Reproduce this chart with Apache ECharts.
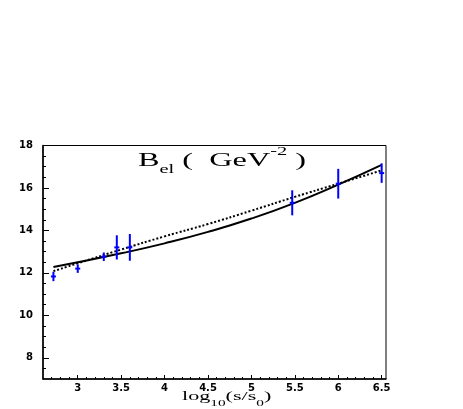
<!DOCTYPE html>
<html>
<head>
<meta charset="utf-8">
<script src="https://cdn.jsdelivr.net/npm/echarts@6/dist/echarts.min.js"></script>
<style>
  html, body { margin: 0; padding: 0; background: #fff; }
  #main { width: 463px; height: 409px; }
</style>
</head>
<body>
<div id="main"></div>
<script>
// measured points (log10(s/s0), B_el, error)
const dataX = [2.72, 3.0, 3.3, 3.45, 3.6, 5.47, 6.0, 6.5];
const dataY = [11.83, 12.2, 12.76, 13.2, 13.2, 15.3, 16.2, 16.7];
const dataErr = [0.22, 0.2, 0.2, 0.57, 0.63, 0.59, 0.7, 0.46];

// model curves
const curveX = [2.72, 3.0, 3.5, 4.0, 4.5, 5.0, 5.5, 6.0, 6.5];
const solidY = [12.28, 12.5, 12.92, 13.39, 13.93, 14.56, 15.3, 16.16, 17.09];
const dottedY = [12.08, 12.45, 13.1, 13.72, 14.3, 14.93, 15.58, 16.2, 16.83];

// tick labels
const xTicks = [3, 3.5, 4, 4.5, 5, 5.5, 6, 6.5];
const yTicks = [8, 10, 12, 14, 16, 18];
const xMinor = [];
for (let i = 27; i <= 65; i++) if (i % 5 !== 0) xMinor.push(i / 10);
const yMinor = [];
for (let i = 15; i <= 35; i++) if (i % 4 !== 0) yMinor.push(i / 2);

const labelFont = {
    fontFamily: 'DejaVu Sans',
    fontWeight: 'bold',
    fontSize: 10,
    color: '#000'
};

let chart = echarts.init(document.getElementById('main'));
chart.setOption({
    backgroundColor: '#fff',
    animation: false,
    grid: {
        left: 43,
        right: 77,
        top: 145.5,
        bottom: 30,
        show: true,
        borderColor: '#000',
        borderWidth: 1
    },
    xAxis: [{
        type: 'value',
        min: 2.6,
        max: 6.55,
        axisLine: { lineStyle: { color: '#000', width: 1.5 } },
        axisTick: { inside: true, length: 4, customValues: xTicks, lineStyle: { color: '#000' } },
        axisLabel: Object.assign({ margin: 4, customValues: xTicks }, labelFont),
        splitLine: { show: false }
    }, {
        type: 'value',
        min: 2.6,
        max: 6.55,
        position: 'bottom',
        axisLine: { show: false },
        axisTick: { inside: true, length: 2, customValues: xMinor, lineStyle: { color: '#000' } },
        axisLabel: { show: false },
        splitLine: { show: false }
    }],
    yAxis: [{
        type: 'value',
        min: 7,
        max: 18,
        axisLine: { show: true, lineStyle: { color: '#000', width: 1.5 } },
        axisTick: { show: true, inside: true, length: 6, customValues: yTicks, lineStyle: { color: '#000' } },
        axisLabel: Object.assign({ margin: 10, customValues: yTicks }, labelFont),
        splitLine: { show: false }
    }, {
        type: 'value',
        min: 7,
        max: 18,
        position: 'left',
        axisLine: { show: false },
        axisTick: { show: true, inside: true, length: 3, customValues: yMinor, lineStyle: { color: '#000' } },
        axisLabel: { show: false },
        splitLine: { show: false }
    }],
    graphic: [{
        type: 'text',
        x: 138,
        y: 146,
        scaleX: 1.7,
        style: {
            text: '{m|B}{sub|el}{m| (  GeV}{sup|-2}{m| )}',
            fill: '#000',
            rich: {
                m: { fontFamily: 'Liberation Serif', fontSize: 19, lineHeight: 30, verticalAlign: 'middle' },
                sub: { fontFamily: 'Liberation Serif', fontSize: 12, lineHeight: 12, verticalAlign: 'bottom' },
                sup: { fontFamily: 'Liberation Serif', fontSize: 12, lineHeight: 18, verticalAlign: 'top' }
            }
        }
    }, {
        type: 'text',
        x: 182,
        y: 386,
        scaleX: 1.7,
        style: {
            text: '{m|log}{sub|10}{m|(s/s}{sub|0}{m|)}',
            fill: '#000',
            rich: {
                m: { fontFamily: 'Liberation Serif', fontSize: 13, lineHeight: 22, verticalAlign: 'middle' },
                sub: { fontFamily: 'Liberation Serif', fontSize: 9, lineHeight: 9, verticalAlign: 'bottom' }
            }
        }
    }],
    series: [{
        name: 'solid',
        type: 'line',
        smooth: true,
        symbol: 'none',
        lineStyle: { color: '#000', width: 2 },
        data: curveX.map((x, i) => [x, solidY[i]]),
        z: 3
    }, {
        name: 'dotted',
        type: 'line',
        smooth: true,
        symbol: 'none',
        lineStyle: { color: '#000', width: 2, type: [2, 2] },
        data: curveX.map((x, i) => [x, dottedY[i]]),
        z: 3
    }, {
        name: 'data',
        type: 'custom',
        renderItem: function (params, api) {
            let x = api.value(0), y = api.value(1), e = api.value(2);
            let lo = api.coord([x, y - e]);
            let hi = api.coord([x, y + e]);
            let c = api.coord([x, y]);
            return {
                type: 'group',
                children: [{
                    type: 'line',
                    shape: { x1: lo[0], y1: lo[1], x2: hi[0], y2: hi[1] },
                    style: { stroke: '#0000ff', lineWidth: 2 }
                }, {
                    type: 'line',
                    shape: { x1: c[0] - 2.5, y1: c[1], x2: c[0] + 2.5, y2: c[1] },
                    style: { stroke: '#0000ff', lineWidth: 2 }
                }]
            };
        },
        data: dataX.map((x, i) => [x, dataY[i], dataErr[i]]),
        z: 4
    }]
});
</script>
</body>
</html>
